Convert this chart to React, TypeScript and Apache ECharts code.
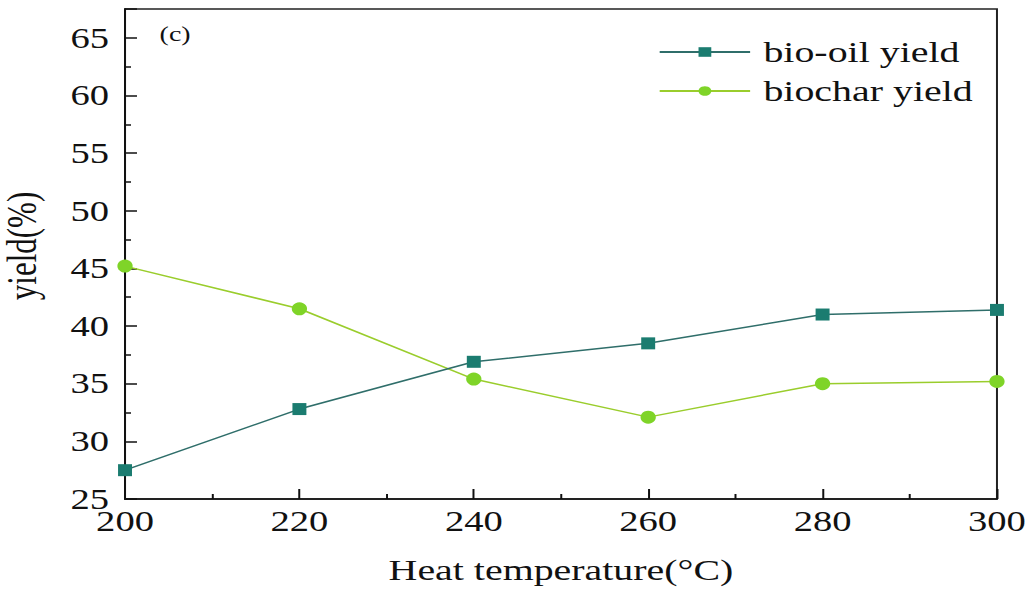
import React, { useEffect, useRef } from "react";
import * as echarts from "echarts";

const temperatures = [200, 220, 240, 260, 280, 300];
const bioOilYield = [27.5, 32.8, 36.9, 38.5, 41.0, 41.4];
const biocharYield = [45.2, 41.5, 35.4, 32.1, 35.0, 35.2];
const seriesNames = ["bio-oil yield", "biochar yield"];

const FONT = "'Liberation Serif', 'Times New Roman', serif";
// The figure is drawn narrow and widened horizontally, like the original plot.
const STRETCH = 1.33;
const PAGE_W = 1031;
const PAGE_H = 598;

export default function App() {
  const ref = useRef<HTMLDivElement>(null);

  useEffect(() => {
    if (!ref.current) return;
    const chart = echarts.init(ref.current, null, { renderer: "svg" });
    const pairs = (ys: number[]) => temperatures.map((t, i) => [t, ys[i]]);
    chart.setOption({
      animation: false,
      backgroundColor: "#ffffff",
      grid: {
        left: 94,
        top: 9,
        width: 655.6,
        height: 490,
        outerBoundsMode: "none",
        containLabel: false,
        show: true,
        borderColor: "#222",
        borderWidth: 1.5,
        backgroundColor: "transparent",
      },
      legend: {
        left: 490,
        top: 32,
        orient: "vertical",
        itemWidth: 68,
        itemHeight: 12,
        itemGap: 9,
        textStyle: {
          fontFamily: FONT,
          fontSize: 30,
          lineHeight: 30,
          color: "#111",
          padding: [0, 0, 0, 5],
        },
        data: seriesNames,
      },
      graphic: [
        {
          type: "text",
          left: 120,
          top: 23,
          style: { text: "(c)", font: `21px ${FONT}`, fill: "#111" },
        },
      ],
      xAxis: {
        type: "value",
        min: 200,
        max: 300,
        interval: 20,
        name: "Heat temperature(°C)",
        nameLocation: "middle",
        nameGap: 56,
        nameTextStyle: { fontFamily: FONT, fontSize: 30, color: "#111" },
        axisLine: { show: true, lineStyle: { color: "#111", width: 1.5 } },
        axisTick: { show: true, inside: true, length: 10, lineStyle: { color: "#111", width: 1.5 } },
        minorTick: { show: true, splitNumber: 2, length: 5, lineStyle: { color: "#111", width: 1.5 } },
        axisLabel: { fontFamily: FONT, fontSize: 29, color: "#111", margin: 8 },
        splitLine: { show: false },
      },
      yAxis: {
        type: "value",
        min: 25,
        max: 67.5,
        interval: 5,
        name: "yield(%)",
        nameLocation: "middle",
        nameGap: 62,
        nameRotate: 90,
        nameTextStyle: { fontFamily: FONT, fontSize: 31, color: "#111", padding: [0, 0, 0, 16] },
        axisLine: { show: true, lineStyle: { color: "#111", width: 1.5 } },
        axisTick: { show: true, inside: true, length: 9, lineStyle: { color: "#111", width: 1.5 } },
        minorTick: { show: true, splitNumber: 2, length: 4.5, lineStyle: { color: "#111", width: 1.5 } },
        axisLabel: {
          fontFamily: FONT,
          fontSize: 29,
          color: "#111",
          margin: 12,
          showMaxLabel: false,
          formatter: (v: number) => (v % 5 === 0 ? String(v) : ""),
        },
        splitLine: { show: false },
      },
      series: [
        {
          name: seriesNames[0],
          type: "line",
          data: pairs(bioOilYield),
          symbol: "rect",
          symbolSize: [10.5, 12],
          clip: false,
          itemStyle: { color: "#1b7c70" },
          lineStyle: { color: "#2f6e6a", width: 1.5 },
          z: 3,
        },
        {
          name: seriesNames[1],
          type: "line",
          data: pairs(biocharYield),
          symbol: "circle",
          symbolSize: [11.5, 13],
          clip: false,
          itemStyle: { color: "#7fd428" },
          lineStyle: { color: "#9acd2c", width: 1.5 },
          z: 2,
        },
      ],
    });
    return () => chart.dispose();
  }, []);

  return (
    <div
      style={{
        position: "fixed",
        left: 0,
        top: 0,
        width: PAGE_W,
        height: PAGE_H,
        background: "#fff",
        overflow: "hidden",
      }}
    >
      <div
        ref={ref}
        style={{
          width: PAGE_W / STRETCH,
          height: PAGE_H,
          transform: `scaleX(${STRETCH})`,
          transformOrigin: "0 0",
        }}
      />
    </div>
  );
}
